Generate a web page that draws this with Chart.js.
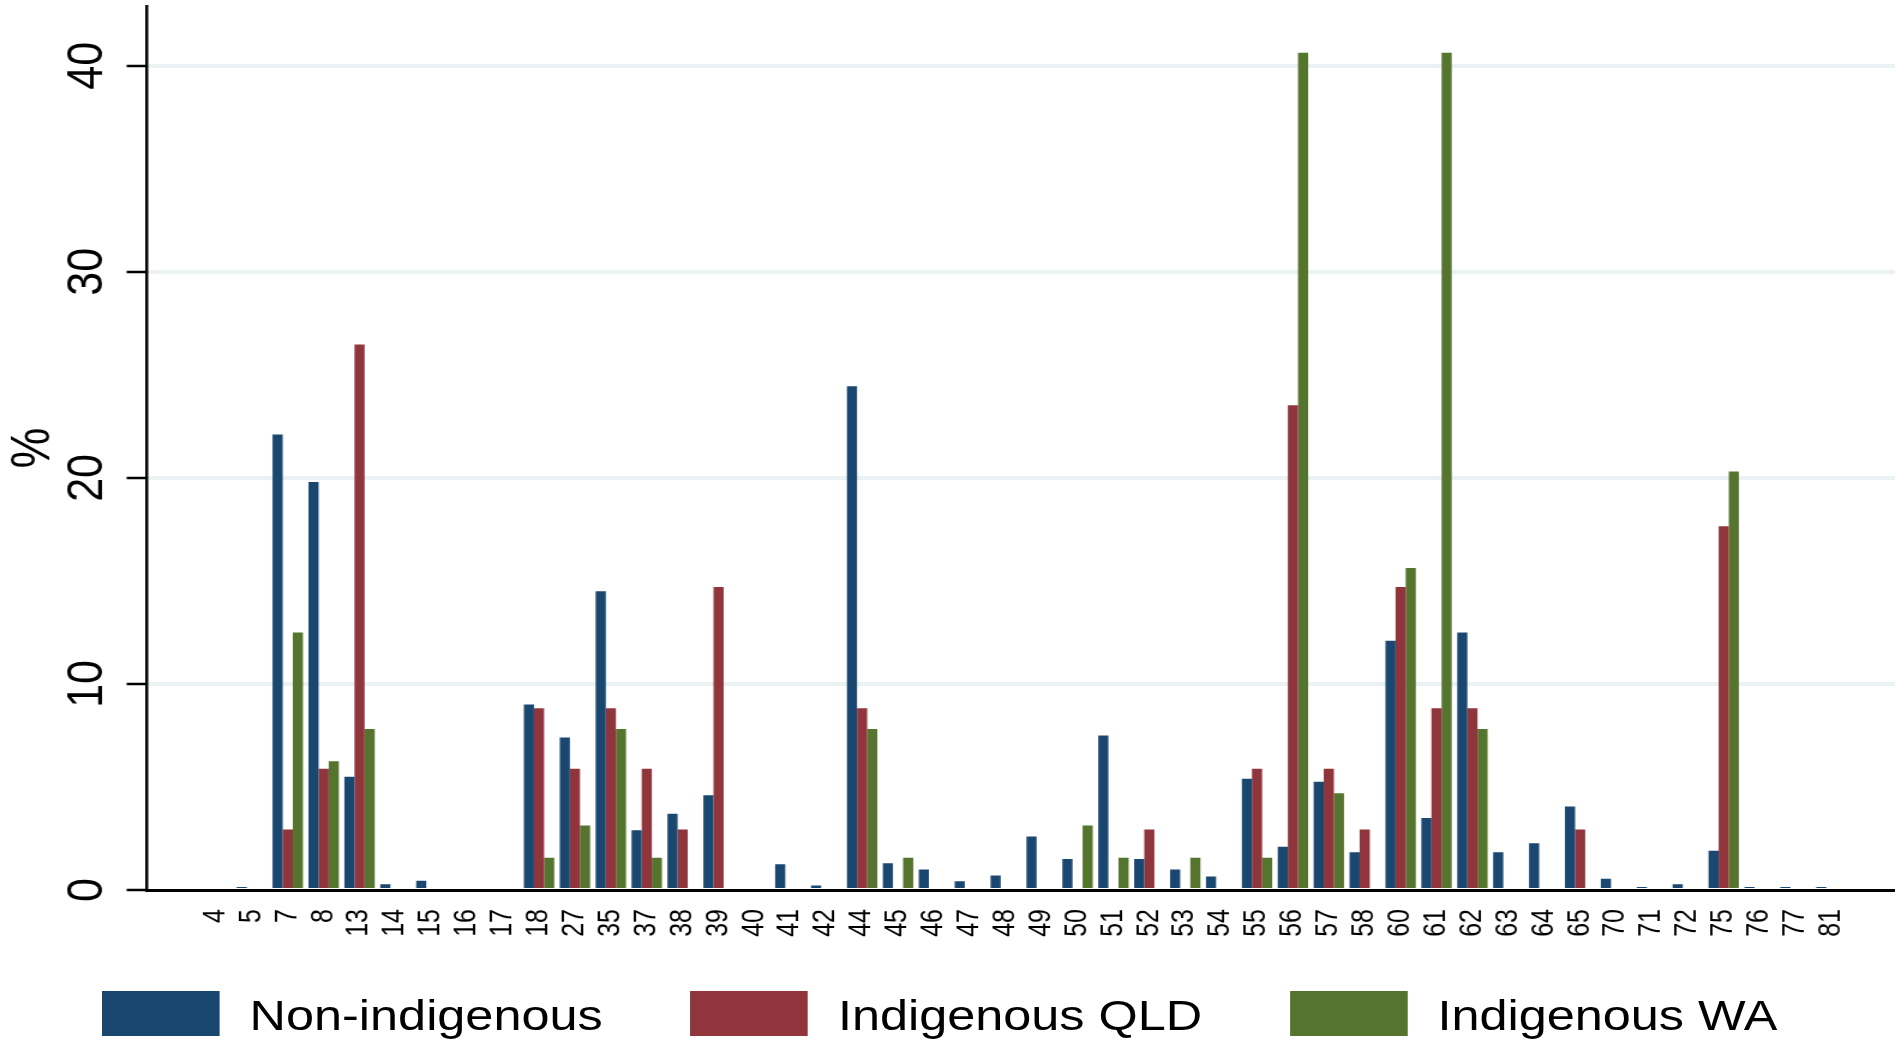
<!DOCTYPE html>
<html><head><meta charset="utf-8">
<script src="https://cdn.jsdelivr.net/npm/chart.js@4.4.1/dist/chart.umd.min.js"></script>
<style>
html,body{margin:0;padding:0;background:#fff;overflow:hidden;width:1895px;height:1041px;}
#wrap{position:absolute;left:0;top:0;width:1579px;height:1041px;transform:scaleX(1.2001);transform-origin:0 0;background:#fff;}
#c{display:block;}
#legend{position:absolute;left:85px;top:991px;display:flex;gap:73px;font-family:"Liberation Sans",Arial,sans-serif;font-size:42px;color:#000;}
.item{display:flex;align-items:center;height:45px;}
.sw{width:98px;height:45px;margin-right:25px;flex:none;}
.tx{line-height:45px;padding-top:3px;white-space:nowrap;}
</style></head><body>
<div id="wrap"><canvas id="c"></canvas><div id="legend"></div></div>
<script>
const categories = ['4','5','7','8','13','14','15','16','17','18','27','35','37','38','39','40','41','42','44','45','46','47','48','49','50','51','52','53','54','55','56','57','58','60','61','62','63','64','65','70','71','72','75','76','77','81'];
const nonIndigenous = [0,0.15,22.1,19.8,5.5,0.28,0.45,0,0,9.0,7.4,14.5,2.9,3.7,4.6,0.1,1.25,0.22,24.45,1.3,1.0,0.42,0.7,2.6,1.5,7.5,1.5,1.0,0.65,5.4,2.1,5.25,1.83,12.1,3.5,12.5,1.83,2.27,4.05,0.55,0.15,0.28,1.9,0.15,0.15,0.15];
const indigenousQLD = [0,0,2.94,5.88,26.47,0,0,0,0,8.82,5.88,8.82,5.88,2.94,14.71,0,0,0,8.82,0,0,0,0,0,0,0,2.94,0,0,5.88,23.53,5.88,2.94,14.71,8.82,8.82,0,0,2.94,0,0,0,17.65,0,0,0];
const indigenousWA = [0,0,12.5,6.25,7.81,0,0,0,0,1.56,3.13,7.81,1.56,0,0,0,0,0,7.81,1.56,0,0,0,0,3.13,1.56,0,1.56,0,1.56,40.63,4.69,0,15.63,40.63,7.81,0,0,0,0,0,0,20.31,0,0,0];
const yTickValues = [0,10,20,30,40];
const seriesNames = ['Non-indigenous','Indigenous QLD','Indigenous WA'];
const seriesColors = ['#1a476f','#90353b','#55752f'];

const FONT = '"Liberation Sans", Arial, sans-serif';

const htmlLegend = {
  id: 'htmlLegend',
  afterUpdate(chart) {
    const box = document.getElementById('legend');
    box.innerHTML = '';
    chart.options.plugins.legend.labels.generateLabels(chart).forEach(it => {
      const item = document.createElement('div'); item.className = 'item';
      const sw = document.createElement('div'); sw.className = 'sw'; sw.style.background = it.fillStyle;
      const tx = document.createElement('div'); tx.className = 'tx'; tx.textContent = it.text;
      item.appendChild(sw); item.appendChild(tx); box.appendChild(item);
    });
  }
};

new Chart(document.getElementById('c'), {
  type: 'bar',
  data: {
    labels: categories,
    datasets: [
      {label: seriesNames[0], data: nonIndigenous, backgroundColor: seriesColors[0]},
      {label: seriesNames[1], data: indigenousQLD, backgroundColor: seriesColors[1]},
      {label: seriesNames[2], data: indigenousWA, backgroundColor: seriesColors[2]}
    ]
  },
  plugins: [htmlLegend],
  options: {
    responsive: true,
    maintainAspectRatio: false,
    animation: false,
    devicePixelRatio: 1,
    layout: {padding: {top: 6, left: 0, right: 0, bottom: 0}},
    datasets: {bar: {categoryPercentage: 0.846, barPercentage: 1.0, borderWidth: 0}},
    plugins: {legend: {display: false}, tooltip: {enabled: false}},
    scales: {
      x: {
        offset: true,
        grid: {display: false, drawTicks: false},
        border: {display: true, color: '#000', width: 3},
        ticks: {autoSkip: false, minRotation: 90, maxRotation: 90, padding: 19, color: '#000', font: {family: FONT, size: 25}},
        afterBuildTicks(axis) {
          axis._startValue = -1.92;
          axis._valueRange = 48.69;
        },
        afterFit(axis) {
          axis.height = 151;
          axis.paddingLeft = 0; axis.paddingRight = 0;
        }
      },
      y: {
        min: 0,
        max: 42.9,
        grid: {
          color: (ctx) => (ctx.tick && ctx.tick.value === 0) ? 'rgba(0,0,0,0)' : '#eaf2f3',
          lineWidth: 4,
          drawTicks: true,
          tickLength: 17,
          tickColor: '#000',
          tickWidth: 2.5
        },
        border: {display: true, color: '#000', width: 2.5},
        ticks: {minRotation: 90, maxRotation: 90, crossAlign: 'center', padding: 8.6, color: '#000', font: {family: FONT, size: 43}},
        title: {display: true, text: '%', color: '#000', font: {family: FONT, size: 46, lineHeight: 1}, padding: {top: 5, bottom: 0}},
        afterBuildTicks(axis) {
          axis.ticks = yTickValues.map(v => ({value: v}));
        },
        afterFit(axis) {
          axis.width = 122.5;
          axis.paddingTop = 0; axis.paddingBottom = 0;
        }
      }
    }
  }
});
</script>
</body></html>
